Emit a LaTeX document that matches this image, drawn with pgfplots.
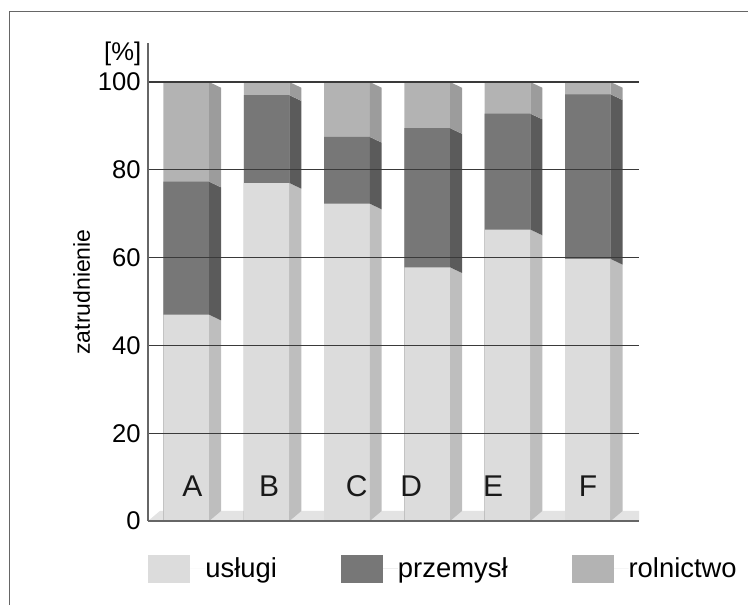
\documentclass[border=0pt]{standalone}
\usepackage{pgfplots}
\pgfplotsset{compat=1.18}
\usepackage{fontspec}
\setmainfont{Liberation Sans}
\definecolor{uf}{HTML}{DCDCDC}
\definecolor{us}{HTML}{BEBEBE}
\definecolor{pf}{HTML}{777777}
\definecolor{ps}{HTML}{5B5B5B}
\definecolor{rf}{HTML}{B3B3B3}
\definecolor{rs}{HTML}{9C9C9C}
\definecolor{floorc}{HTML}{E3E3E3}
\definecolor{gridc}{HTML}{3A3A3A}
\definecolor{axc}{HTML}{666666}
\begin{document}
\begin{tikzpicture}
\useasboundingbox (0,0) rectangle (374pt,302.5pt);
\draw[axc, line width=0.6pt] (4.75pt,0pt) -- (4.75pt,296.75pt) -- (374pt,296.75pt);
\begin{axis}[
  at={(74pt,42pt)}, anchor=south west,
  scale only axis, width=245.5pt, height=239pt,
  xmin=-0.477, xmax=5.637, ymin=0, ymax=108.9,
  axis x line*=bottom, axis y line*=left,
  axis line style={axc, line width=0.7pt},
  xtick=\empty,
  ytick={0,20,40,60,80,100},
  major tick length=0pt,
  ymajorgrids, grid style={gridc, line width=0.6pt},
  axis on top,
  /pgf/number format/assume math mode=true,
  yticklabel style={font=\fontsize{12.8}{14}\selectfont, inner sep=0pt, xshift=-3.5pt},
  legend style={at={(0,-0.1004)}, anchor=west, draw=none, fill=none, inner sep=0pt,
    legend columns=3, font=\fontsize{13.7}{16}\selectfont,
    /tikz/every even column/.append style={column sep=32pt},
    nodes={inner sep=0pt}},
  legend image code/.code={\fill (0pt,-7pt) rectangle (21pt,7pt); \path (21pt,0pt) -- (28.5pt,0pt);},
]
\addlegendimage{fill=uf, draw=none}\addlegendentry{usługi}
\addlegendimage{fill=pf, draw=none}\addlegendentry{przemysł}
\addlegendimage{fill=rf, draw=none}\addlegendentry{rolnictwo}
% floor
\addplot[fill=floorc, draw=none, forget plot] coordinates {(-0.477,0) (5.637,0) (5.637,2.3) (-0.328,2.3)} -- cycle;
% front faces (cumulative)
\addplot[ybar, bar width=0.569, bar shift=0pt, fill=rf, draw=none, forget plot]
  coordinates {(0,100) (1,100) (2,100) (3,100) (4,100) (5,100)};
\addplot[ybar, bar width=0.569, bar shift=0pt, fill=pf, draw=none, forget plot]
  coordinates {(0,77.3) (1,97.0) (2,87.5) (3,89.5) (4,92.8) (5,97.2)};
\addplot[ybar, bar width=0.569, bar shift=0pt, fill=uf, draw=none, forget plot]
  coordinates {(0,47.0) (1,77.0) (2,72.3) (3,57.8) (4,66.4) (5,59.7)};
% side faces A
\addplot[fill=us, draw=none, forget plot] coordinates {(0.2845,0) (0.4335,2.3) (0.4335,45.7) (0.2845,47.0)} -- cycle;
\addplot[fill=ps, draw=none, forget plot] coordinates {(0.2845,47.0) (0.4335,45.7) (0.4335,76.0) (0.2845,77.3)} -- cycle;
\addplot[fill=rs, draw=none, forget plot] coordinates {(0.2845,77.3) (0.4335,76.0) (0.4335,98.7) (0.2845,100)} -- cycle;
% B
\addplot[fill=us, draw=none, forget plot] coordinates {(1.2845,0) (1.4335,2.3) (1.4335,75.7) (1.2845,77.0)} -- cycle;
\addplot[fill=ps, draw=none, forget plot] coordinates {(1.2845,77.0) (1.4335,75.7) (1.4335,95.7) (1.2845,97.0)} -- cycle;
\addplot[fill=rs, draw=none, forget plot] coordinates {(1.2845,97.0) (1.4335,95.7) (1.4335,98.7) (1.2845,100)} -- cycle;
% C
\addplot[fill=us, draw=none, forget plot] coordinates {(2.2845,0) (2.4335,2.3) (2.4335,71.0) (2.2845,72.3)} -- cycle;
\addplot[fill=ps, draw=none, forget plot] coordinates {(2.2845,72.3) (2.4335,71.0) (2.4335,86.2) (2.2845,87.5)} -- cycle;
\addplot[fill=rs, draw=none, forget plot] coordinates {(2.2845,87.5) (2.4335,86.2) (2.4335,98.7) (2.2845,100)} -- cycle;
% D
\addplot[fill=us, draw=none, forget plot] coordinates {(3.2845,0) (3.4335,2.3) (3.4335,56.5) (3.2845,57.8)} -- cycle;
\addplot[fill=ps, draw=none, forget plot] coordinates {(3.2845,57.8) (3.4335,56.5) (3.4335,88.2) (3.2845,89.5)} -- cycle;
\addplot[fill=rs, draw=none, forget plot] coordinates {(3.2845,89.5) (3.4335,88.2) (3.4335,98.7) (3.2845,100)} -- cycle;
% E
\addplot[fill=us, draw=none, forget plot] coordinates {(4.2845,0) (4.4335,2.3) (4.4335,65.1) (4.2845,66.4)} -- cycle;
\addplot[fill=ps, draw=none, forget plot] coordinates {(4.2845,66.4) (4.4335,65.1) (4.4335,91.5) (4.2845,92.8)} -- cycle;
\addplot[fill=rs, draw=none, forget plot] coordinates {(4.2845,92.8) (4.4335,91.5) (4.4335,98.7) (4.2845,100)} -- cycle;
% F
\addplot[fill=us, draw=none, forget plot] coordinates {(5.2845,0) (5.4335,2.3) (5.4335,58.4) (5.2845,59.7)} -- cycle;
\addplot[fill=ps, draw=none, forget plot] coordinates {(5.2845,59.7) (5.4335,58.4) (5.4335,95.9) (5.2845,97.2)} -- cycle;
\addplot[fill=rs, draw=none, forget plot] coordinates {(5.2845,97.2) (5.4335,95.9) (5.4335,98.7) (5.2845,100)} -- cycle;
% category labels
\begin{scope}[every node/.style={anchor=base, font=\fontsize{15}{17}\selectfont, text=black!90}]
\node at (axis cs:0.077,5.5) {A};
\node at (axis cs:1.031,5.5) {B};
\node at (axis cs:2.122,5.5) {C};
\node at (axis cs:2.80,5.5) {D};
\node at (axis cs:3.820,5.5) {E};
\node at (axis cs:5.002,5.5) {F};
\end{scope}
\end{axis}
\node[anchor=east, inner sep=0pt, font=\fontsize{12.8}{14}\selectfont] at (70.8pt,275.5pt) {[\%]};
\node[rotate=90, inner sep=0pt, font=\fontsize{11.5}{14}\selectfont] at (40.85pt,156.5pt) {zatrudnienie};
\end{tikzpicture}
\end{document}
